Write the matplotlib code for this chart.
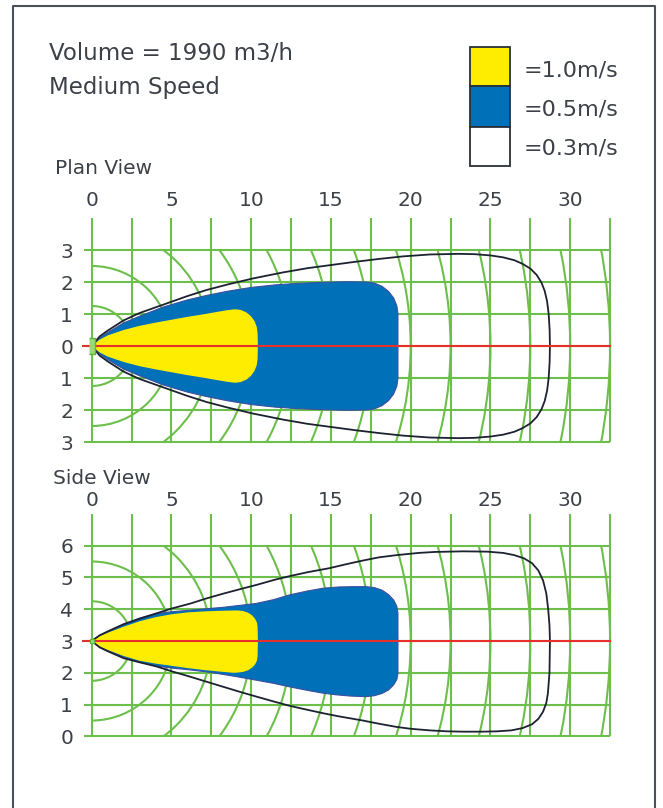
import numpy as np
import matplotlib.pyplot as plt
from matplotlib.patches import Arc, Rectangle
from matplotlib.lines import Line2D

plt.rcParams['font.family'] = ['DejaVu Sans']

# ---- data ----
volume_text = 'Volume = 1990 m3/h'
speed_text = 'Medium Speed'
legend_labels = ['=1.0m/s', '=0.5m/s', '=0.3m/s']
legend_colors = ['#ffed00', '#0070b8', '#ffffff']

x_ticks = [0, 5, 10, 15, 20, 25, 30]
plan_y_ticks = [3, 2, 1, 0, -1, -2, -3]
plan_y_labels = ['3', '2', '1', '0', '1', '2', '3']
side_y_ticks = [6, 5, 4, 3, 2, 1, 0]
side_y_labels = ['6', '5', '4', '3', '2', '1', '0']

grid_x = [0, 2.5, 5, 7.5, 10, 12.5, 15, 17.5, 20, 22.5, 25, 27.5, 30, 32.5]
ring_r = [2.5, 5, 7.5, 10, 12.5, 15, 17.5, 20, 22.5, 25, 27.5, 30, 32.5]

# plan view, upper half (mirrored below the axis)
plan_yel_x = [0, 0.5, 1, 2, 3, 4, 5, 6, 7, 7.8, 8.5, 9.0, 9.36, 9.7, 9.99, 10.21, 10.35, 10.4, 10.42]
plan_yel_y = [0, 0.2, 0.33, 0.5, 0.63, 0.73, 0.82, 0.91, 0.99, 1.06, 1.12, 1.15, 1.124, 1.05, 0.93, 0.775, 0.594, 0.4, 0.0]

plan_blue_x = [0, 0.5, 1, 2, 3, 4.5, 6, 7.2, 8.5, 10, 11.5, 13, 14.5, 16, 17.2, 17.72, 18.2, 18.61, 18.93, 19.13, 19.2, 19.2]
plan_blue_y = [0, 0.25, 0.42, 0.72, 0.93, 1.22, 1.44, 1.58, 1.71, 1.83, 1.91, 1.96, 1.99, 2.01, 2.0, 1.966, 1.866, 1.707, 1.5, 1.259, 1.0, 0.0]

plan_out_x = [0, 0.5, 1, 2, 3, 4.7, 6, 7.2, 8.5, 10.1, 12, 13.5, 15, 16.5, 18, 19.5, 21.2, 23, 24, 25, 25.8,
              26.5, 27.0, 27.5, 27.9, 28.2, 28.4, 28.55, 28.65, 28.71, 28.73]
plan_out_y = [0, 0.3, 0.48, 0.8, 1.03, 1.33, 1.56, 1.75, 1.92, 2.11, 2.3, 2.43, 2.53, 2.63, 2.72, 2.8, 2.86, 2.88, 2.87, 2.83, 2.77,
              2.68, 2.57, 2.42, 2.22, 1.98, 1.72, 1.4, 1.0, 0.5, 0.0]

# side view, closed outlines (top edge outwards, bottom edge back)
side_yel_x = [0, 0.5, 1, 2, 3, 4, 5, 6, 7, 8, 8.9, 9.2, 9.51, 9.8, 10.05, 10.24, 10.36, 10.4, 10.42,
              10.4, 10.36, 10.24, 10.05, 9.8, 9.51, 9.2, 8.9, 8, 7, 6, 5, 4, 3, 2, 1, 0.5, 0]
side_yel_y = [3, 3.15, 3.26, 3.45, 3.62, 3.75, 3.84, 3.9, 3.93, 3.95, 3.96, 3.96, 3.94, 3.89, 3.81, 3.7, 3.58, 3.45, 3.0,
              2.51, 2.38, 2.26, 2.16, 2.08, 2.03, 2.01, 2.0, 2.04, 2.09, 2.15, 2.22, 2.29, 2.38, 2.53, 2.72, 2.83, 3]

side_blue_x = [0, 0.5, 1, 2, 3, 4, 5, 6.2, 8.25, 10.3, 11.4, 12.4, 13.5, 14.5, 15.5, 16.5, 17.2, 17.72, 18.2, 18.61, 18.93, 19.13, 19.2, 19.2,
               19.2, 19.13, 18.93, 18.61, 18.2, 17.72, 17.2, 16.2, 15.3, 14.5, 13.5, 12.4, 11.4, 10.3, 9.3, 8.25, 7.2, 6, 5, 4, 3, 2, 1, 0.5, 0]
side_blue_y = [3, 3.17, 3.29, 3.52, 3.72, 3.86, 3.92, 3.97, 4.06, 4.18, 4.3, 4.45, 4.57, 4.66, 4.7, 4.71, 4.71, 4.68, 4.6, 4.46, 4.29, 4.09, 3.87, 3.0,
               1.98, 1.79, 1.62, 1.46, 1.35, 1.28, 1.25, 1.27, 1.31, 1.36, 1.45, 1.56, 1.67, 1.77, 1.86, 1.95, 2.03, 2.1, 2.15, 2.22, 2.34, 2.49, 2.7, 2.82, 3]

side_out_x = [0, 0.5, 1, 2, 3, 4, 5, 6.2, 7.2, 8.25, 9.3, 10.3, 11.5, 12.5, 13.5, 14.9, 16, 17, 18, 19.1, 20.5, 21.5, 23.3, 24.8, 25.8,
              26.5, 27.1, 27.6, 28.0, 28.3, 28.5, 28.62, 28.7, 28.73,
              28.7, 28.6, 28.5, 28.3, 28.0, 27.6, 27.0, 26.3, 25.4, 24.5, 23.3, 22.3, 21.2, 20, 19.1, 18, 17, 16.2, 15.4, 14.5, 13.5,
              12.43, 11.4, 10.34, 9.3, 8.25, 7.2, 6.16, 5, 4.07, 3, 2, 1, 0.5, 0]
side_out_y = [3, 3.18, 3.3, 3.53, 3.7, 3.86, 4.02, 4.18, 4.34, 4.49, 4.63, 4.76, 4.93, 5.05, 5.16, 5.29, 5.42, 5.53, 5.63, 5.7, 5.77, 5.8, 5.82, 5.81, 5.77,
              5.7, 5.6, 5.45, 5.22, 4.9, 4.5, 4.0, 3.5, 3.0,
              2.0, 1.35, 1.05, 0.78, 0.55, 0.38, 0.26, 0.19, 0.16, 0.15, 0.15, 0.16, 0.19, 0.24, 0.3, 0.4, 0.5, 0.57, 0.64, 0.73, 0.84,
              0.96, 1.1, 1.25, 1.4, 1.56, 1.72, 1.88, 2.05, 2.2, 2.33, 2.46, 2.68, 2.8, 3]

plan_source = (0, 0)
side_source = (0, 3)

# ---- styling ----
GREEN = '#6cbf4a'
RED = '#e8302a'
DARK = '#1c2230'
TEXT = '#3c4148'
W, H = 663, 808

fig = plt.figure(figsize=(W / 100, H / 100), dpi=100)


def axes_px(left, top, right, bottom):
    return fig.add_axes([left / W, 1 - bottom / H, (right - left) / W, (bottom - top) / H])


def draw_view(ax, y0, y_ticks, y_labels, blue, yellow, outline, source, label_pad):
    ylo, yhi = y0 - 3, y0 + 3
    ax.vlines(grid_x, ylo, yhi + 1, color=GREEN, lw=1.5, zorder=1)
    ax.hlines(y_ticks, -0.5, 32.5, color=GREEN, lw=1.5, zorder=1)
    clip = Rectangle((0, ylo), 32.6, 6, transform=ax.transData)
    for r in ring_r:
        arc = Arc(source, 2 * r, r, theta1=-90, theta2=90, color=GREEN, lw=1.5, zorder=1)
        ax.add_patch(arc)
        arc.set_clip_path(clip)
    ax.fill(blue[0], blue[1], facecolor='#0070b8', edgecolor='#3d4fa0', lw=0.8, zorder=2)
    ax.fill(yellow[0], yellow[1], facecolor='#ffed00', edgecolor='none', zorder=3)
    ax.plot(outline[0], outline[1], color=DARK, lw=1.3, zorder=4)
    ax.plot([-0.8, 32.5], [y0, y0], color=RED, lw=1.5, zorder=5)

    ax.set_xlim(-0.6, 32.7)
    ax.set_ylim(ylo - 0.15, yhi + 1)
    ax.xaxis.tick_top()
    ax.set_xticks(x_ticks)
    ax.set_xticklabels([str(t) for t in x_ticks])
    ax.set_yticks(y_ticks)
    ax.set_yticklabels(y_labels)
    ax.tick_params(axis='both', length=0, labelsize=14.5, labelcolor=TEXT)
    ax.tick_params(axis='x', pad=label_pad)
    ax.tick_params(axis='y', pad=6.5)
    for s in ax.spines.values():
        s.set_visible(False)
    ax.patch.set_visible(False)


def mirror(xs, ys):
    xs, ys = np.asarray(xs), np.asarray(ys)
    return np.concatenate([xs, xs[::-1][1:]]), np.concatenate([ys, -ys[::-1][1:]])


ax1 = axes_px(82.13, 218, 613.27, 446.8)
draw_view(ax1, 0, plan_y_ticks, plan_y_labels,
          mirror(plan_blue_x, plan_blue_y), mirror(plan_yel_x, plan_yel_y),
          mirror(plan_out_x, plan_out_y), plan_source, 6)
ax1.plot(*plan_source, marker=[(-1, -3), (1, -3), (1, 3), (-1, 3)], ms=11,
         mfc='#9bd877', mec='#5db43a', mew=1, zorder=6)

ax2 = axes_px(82.13, 513.8, 613.27, 741.2)
draw_view(ax2, 3, side_y_ticks, side_y_labels,
          (side_blue_x, side_blue_y), (side_yel_x, side_yel_y),
          (side_out_x, side_out_y), side_source, 3)
ax2.plot(*side_source, marker='s', ms=3, mfc='#9bd877', mec='#5db43a', mew=0.8, zorder=6)

# ---- texts ----
def ftext(x, y, s, size, **kw):
    fig.text(x / W, 1 - y / H, s, fontsize=size, color=TEXT, va='baseline', **kw)


ftext(49, 60, volume_text, 16.5)
ftext(49, 94, speed_text, 16.5)
ftext(55, 174, 'Plan View', 14.5)
ftext(53, 484, 'Side View', 14.5)

# legend swatches
box_top = [46.7, 86, 126.7]
box_bot = [86, 126.7, 166]
base = [76.7, 115.5, 154]
for lab, col, t, b, yb in zip(legend_labels, legend_colors, box_top, box_bot, base):
    fig.add_artist(Rectangle((470 / W, 1 - b / H), 40 / W, (b - t) / H, transform=fig.transFigure,
                             facecolor=col, edgecolor='#2a3038', lw=1.3))
    ftext(524, yb, lab, 16)

# frame (open at the bottom)
fx = [13.3, 13.3, 655, 655]
fy = [808, 5.7, 5.7, 808]
fig.add_artist(Line2D([v / W for v in fx], [1 - v / H for v in fy], transform=fig.transFigure,
                      color='#4b5058', lw=1.5))

fig.savefig('out.png', dpi=100)
